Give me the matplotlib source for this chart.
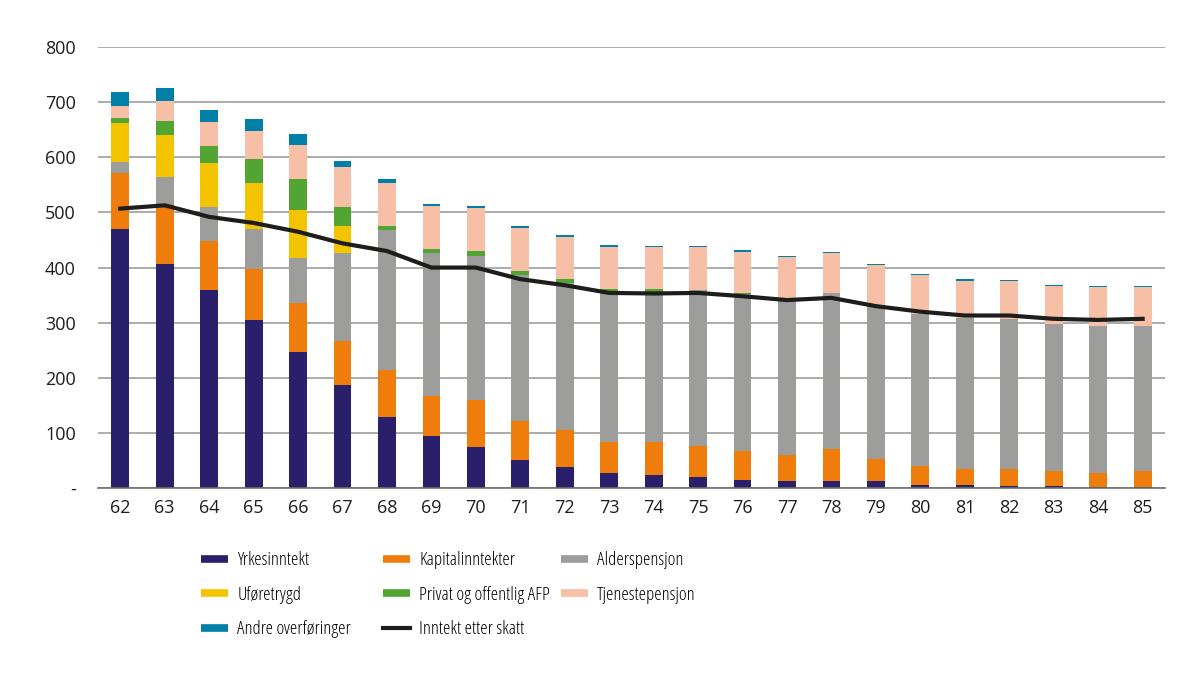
import matplotlib
matplotlib.use('Agg')
import matplotlib.pyplot as plt
from matplotlib.lines import Line2D
import numpy as np

plt.rcParams['font.family'] = ['Open Sans', 'DejaVu Sans']

ages = [str(a) for a in range(62, 86)]

yrkesinntekt = [470, 406, 360, 305, 246, 187, 128, 94, 74, 50, 38, 28, 24, 20, 14, 13, 13, 13, 6, 5, 4, 4, 2, 1]
kapitalinntekter = [101, 110, 88, 92, 90, 80, 86, 73, 86, 71, 68, 55, 59, 57, 54, 46, 57, 40, 34, 29, 30, 26, 25, 29]
alderspensjon = [20, 49, 62, 73, 81, 159, 254, 259, 261, 265, 266, 275, 273, 282, 284, 282, 284, 277, 275, 275, 272, 267, 267, 264]
uforetrygd = [71, 75, 80, 84, 87, 49, 0, 0, 0, 0, 0, 0, 0, 0, 0, 0, 0, 0, 0, 0, 0, 0, 0, 0]
afp = [9, 26, 31, 43, 57, 35, 8, 7, 9, 8, 8, 4, 6, 1, 1, 0, 0, 0, 0, 0, 0, 0, 0, 0]
tjenestepensjon = [23, 36, 43, 51, 61, 72, 78, 79, 78, 77, 76, 76, 76, 77, 76, 79, 72, 75, 71, 67, 69, 70, 70, 70]
andre = [24, 24, 22, 21, 20, 12, 6, 4, 4, 5, 4, 3, 2, 3, 2, 1, 2, 2, 2, 3, 3, 2, 2, 3]
etter_skatt = [507, 513, 492, 481, 465, 444, 430, 400, 400, 379, 368, 354, 353, 354, 348, 341, 345, 330, 320, 313, 313, 307, 305, 307]

series = [
    ('Yrkesinntekt', yrkesinntekt, '#2a1f6b'),
    ('Kapitalinntekter', kapitalinntekter, '#ef7d0b'),
    ('Alderspensjon', alderspensjon, '#9d9d9c'),
    ('Uføretrygd', uforetrygd, '#f5c400'),
    ('Privat og offentlig AFP', afp, '#52a532'),
    ('Tjenestepensjon', tjenestepensjon, '#f7bfa5'),
    ('Andre overføringer', andre, '#0080a8'),
]

fig = plt.figure(figsize=(12, 6.74), dpi=100)
ax = fig.add_axes([0.0817, 0.276, 0.889, 0.654])

x = np.arange(len(ages))
bottom = np.zeros(len(ages))
handles = {}
for name, vals, col in series:
    ax.bar(x, vals, 0.40, bottom=bottom, color=col, zorder=2)
    bottom += np.array(vals)
    handles[name] = Line2D([], [], color=col, lw=5.5, solid_capstyle='butt')

ax.plot(x, etter_skatt, color='#1d1d1b', lw=3, zorder=3)
handles['Inntekt etter skatt'] = Line2D([], [], color='#1d1d1b', lw=3)

ax.set_xlim(-0.5, len(ages) - 0.5)
ax.set_ylim(0, 800)
ax.set_yticks(range(0, 801, 100))
ax.set_yticklabels(['-'] + [str(v) for v in range(100, 801, 100)])
ax.set_xticks(x)
ax.set_xticklabels(ages)
ax.yaxis.grid(True, color='#9d9d9c', lw=1.2, zorder=0)
for s in ['left', 'right', 'top']:
    ax.spines[s].set_visible(False)
ax.spines['bottom'].set_color('#6f6f6e')
ax.spines['bottom'].set_linewidth(1.2)
ax.tick_params(axis='both', length=0, labelsize=13, colors='#1d1d1b')
ax.tick_params(axis='y', pad=16)
ax.tick_params(axis='x', pad=8)

# legend: three columns placed one by one
columns = [
    (0.1533, ['Yrkesinntekt', 'Uføretrygd', 'Andre overføringer']),
    (0.305, ['Kapitalinntekter', 'Privat og offentlig AFP', 'Inntekt etter skatt']),
    (0.4533, ['Alderspensjon', 'Tjenestepensjon']),
]
for xpos, names in columns:
    fig.legend([handles[n] for n in names], names, loc='upper left',
               bbox_to_anchor=(xpos, 0.207), frameon=False,
               prop={'family': 'Open Sans', 'stretch': 'condensed', 'size': 13.5},
               handlelength=1.45, handletextpad=0.5, labelspacing=0.88)

fig.savefig('out.png', dpi=100)
